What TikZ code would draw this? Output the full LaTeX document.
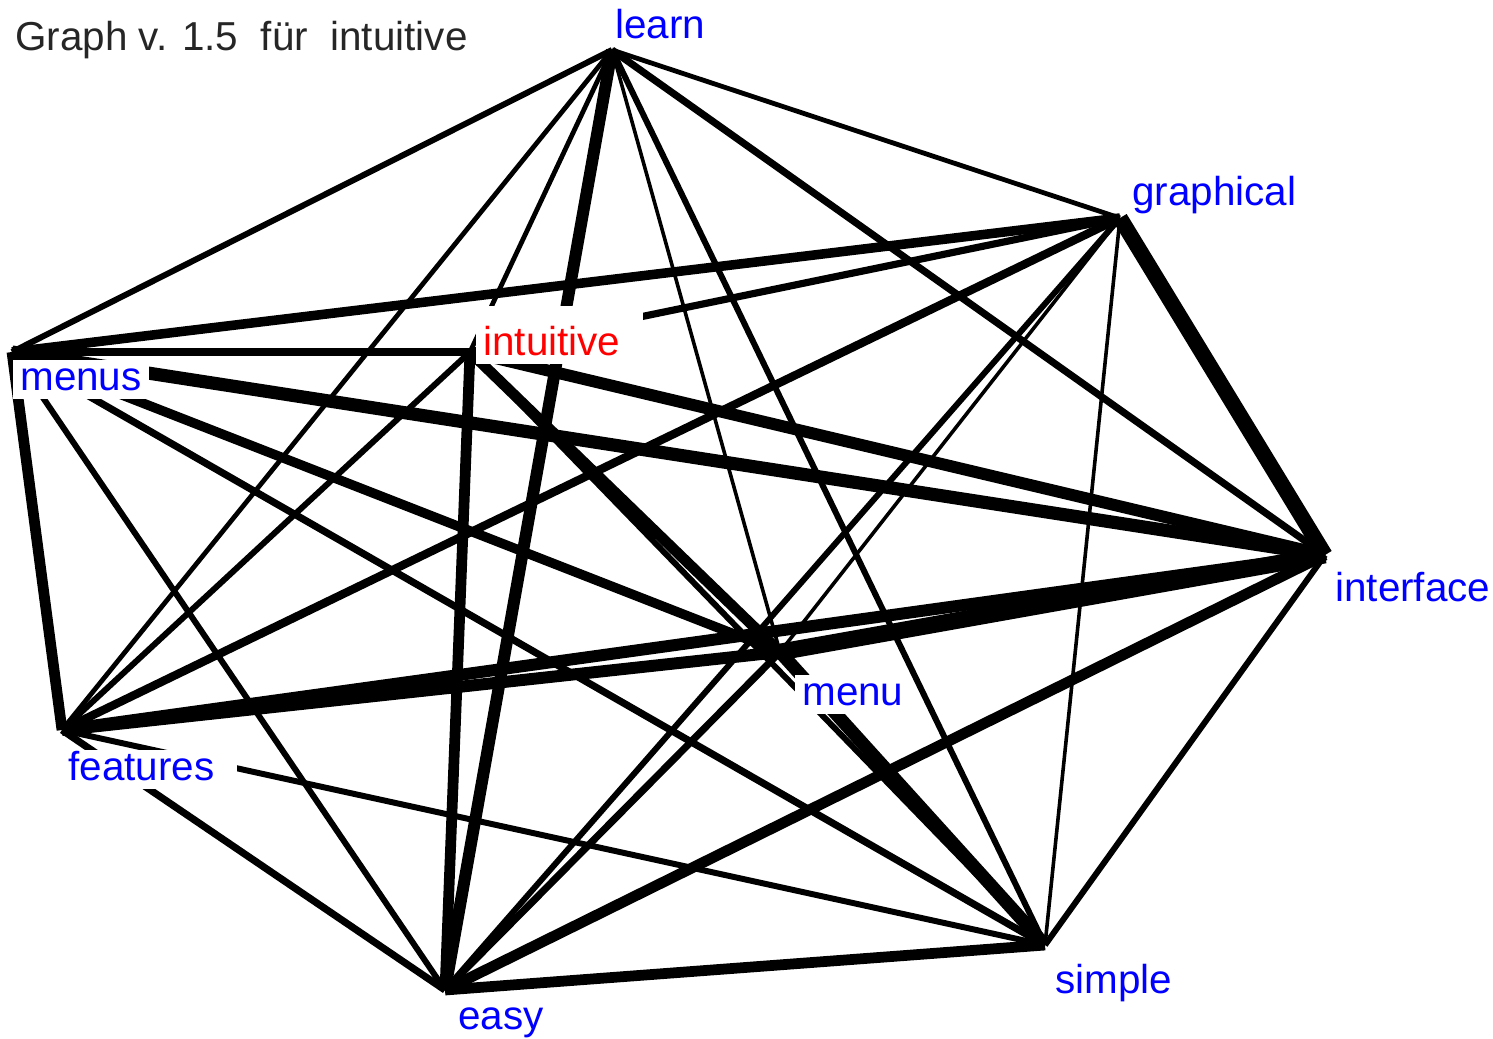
\documentclass[tikz,border=0pt]{standalone}
\usepackage{fontspec}
\setmainfont{Liberation Sans}
\newcommand{\wordfont}{\fontsize{23}{27}\selectfont}

\tikzset{
	edge/.style={line width=#1*0.68pt},
	word/.style={fill=white,text=blue,font=\wordfont,anchor=base west,
		inner xsep=4pt,inner ysep=3pt,text height=14pt,text depth=2pt},
}

\begin{document}
\begin{tikzpicture}[x=0.02cm,y=-0.02cm]
	
	\useasboundingbox (0,0) rectangle (1493,1038);
	
	\coordinate (learn) at (612,50);
	\coordinate (graphical) at (1120,218);
	\coordinate (intuitive) at (470,352);
	\coordinate (menus) at (12,352);
	\coordinate (interface) at (1325,555);
	\coordinate (menu) at (780,652);
	\coordinate (features) at (62,730);
	\coordinate (easy) at (445,990);
	\coordinate (simple) at (1045,945);
	
	%%%%%%%%%%%%%%%%%%%%%%%%%%%%%%%%%%%%%%%%%%%%%%%%%%%%%%
	
	\draw [edge=4] (learn) -- (graphical);
	\draw [edge=4] (learn) -- (intuitive);
	\draw [edge=5] (learn) -- (menus);
	\draw [edge=6] (learn) -- (interface);
	\draw [edge=3] (learn) -- (menu);
	\draw [edge=4] (learn) -- (features);
	\draw [edge=10] (learn) -- (easy);
	\draw [edge=5] (learn) -- (simple);
	%
	\draw [edge=8] (graphical) -- (menus);
	\draw [edge=6] (graphical) -- (intuitive);
	\draw [edge=13] (graphical) -- (interface);
	\draw [edge=7] (graphical) -- (features);
	\draw [edge=3] (graphical) -- (menu);
	\draw [edge=5] (graphical) -- (easy);
	\draw [edge=3] (graphical) -- (simple);
	%
	\draw [edge=6] (intuitive) -- (menus);
	\draw [edge=10] (intuitive) -- (interface);
	\draw [edge=9] (intuitive) -- (menu);
	\draw [edge=5] (intuitive) -- (features);
	\draw [edge=9] (intuitive) -- (easy);
	\draw [edge=5] (intuitive) -- (simple);
	%
	\draw [edge=11] (menus) -- (interface);
	\draw [edge=8] (menus) -- (menu);
	\draw [edge=9] (menus) -- (features);
	\draw [edge=5] (menus) -- (easy);
	\draw [edge=6] (menus) -- (simple);
	%
	\draw [edge=14] (interface) -- (menu);
	\draw [edge=10] (interface) -- (features);
	\draw [edge=9] (interface) -- (easy);
	\draw [edge=5] (interface) -- (simple);
	%
	\draw [edge=10] (menu) -- (features);
	\draw [edge=6] (menu) -- (easy);
	\draw [edge=11] (menu) -- (simple);
	%
	\draw [edge=6] (features) -- (easy);
	\draw [edge=5] (features) -- (simple);
	\draw [edge=9] (easy) -- (simple);
	
	%%%%%%%%%%%%%%%%%%%%%%%%%%%%%%%%%%%%%%%%%%%%%%%%%%%%%%
	
	\node [word] (learn-text) at (608,38) {learn};
	\node [word] (graphical-text) at (1125,205) {graphical};
	\node [word,text=red,text height=25pt,text width=87pt] (intuitive-text) at (476,355) {intuitive};
	\node [word] (menus-text) at (13,390) {menus};
	\node [word] (interface-text) at (1328,601) {interface};
	\node [word] (menu-text) at (795,705) {menu};
	\node [word,text width=92pt] (features-text) at (61,780) {features};
	\node [word] (easy-text) at (451,1029) {easy};
	\node [word] (simple-text) at (1048,993) {simple};
	
	\node [anchor=base west,font=\wordfont,text=black!85,inner sep=0pt] (title) at (15,50) {Graph v. 1.5\ \ für\ \ intuitive};
	
\end{tikzpicture}
\end{document}
